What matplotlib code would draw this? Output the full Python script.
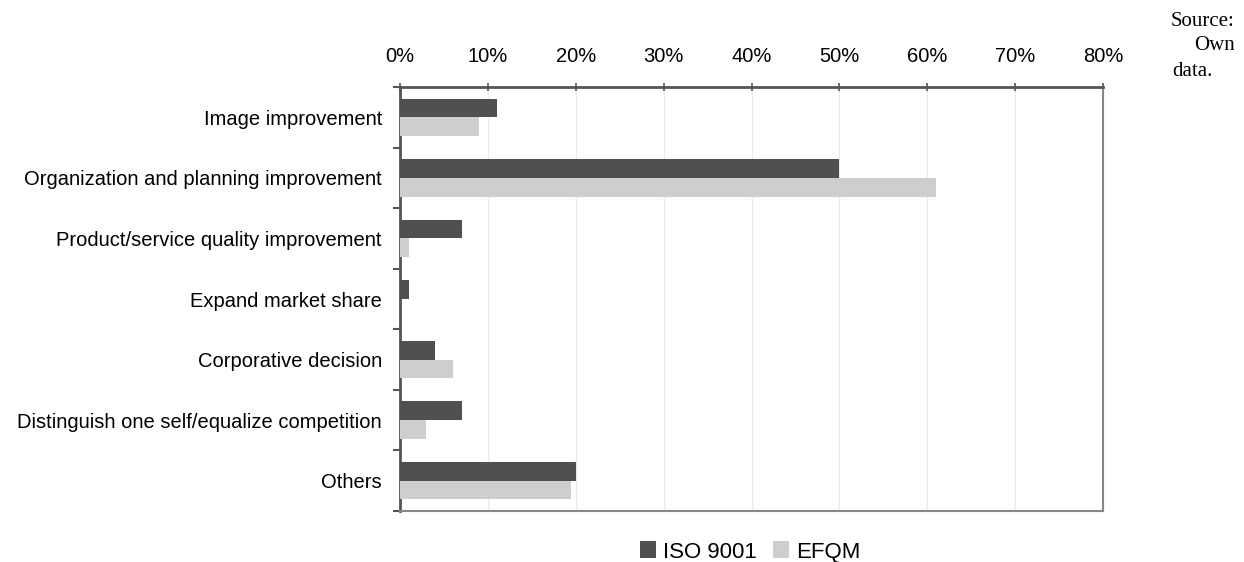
import numpy as np
from matplotlib import pyplot as plt
from matplotlib.ticker import FixedLocator

categories = ['Image improvement',
              'Organization and planning improvement',
              'Product/service quality improvement',
              'Expand market share',
              'Corporative decision',
              'Distinguish one self/equalize competition',
              'Others']
iso_9001 = [11, 50, 7, 1, 4, 7, 20]
efqm = [9, 61, 1, 0, 6, 3, 19.5]
x_ticks = [0, 10, 20, 30, 40, 50, 60, 70, 80]

plt.rcParams['font.family'] = ['Liberation Sans', 'DejaVu Sans']

fig = plt.figure(figsize=(12.44, 5.62), dpi=100)
ax = fig.add_axes([400/1244, 1 - 511/562, 703/1244, 424/562])

y = np.arange(len(categories))
h = 0.31
ax.barh(y - h/2, iso_9001, height=h, color='#505050', label='ISO 9001', zorder=3)
ax.barh(y + h/2, efqm, height=h, color='#cecece', label='EFQM', zorder=3)

ax.set_xlim(0, 80)
ax.set_ylim(len(categories) - 0.5, -0.5)
ax.set_xticks(x_ticks)
ax.set_xticklabels([str(t) + '%' for t in x_ticks], fontsize=14.5)
ax.xaxis.tick_top()
ax.tick_params(axis='x', direction='inout', length=6, width=1.2, color='#555555', pad=12)
ax.grid(axis='x', color='#ebebeb', linewidth=1, zorder=0)

ax.set_yticks(y)
ax.set_yticklabels(categories, fontsize=14.5)
ax.tick_params(axis='y', length=0, pad=13)
ax.yaxis.set_minor_locator(FixedLocator(np.arange(-0.5, len(categories), 1)))
ax.tick_params(axis='y', which='minor', length=5, width=1.5, color='#555555', direction='out')

ax.spines['left'].set_color('#555555')
ax.spines['left'].set_linewidth(2)
ax.spines['top'].set_color('#555555')
ax.spines['top'].set_linewidth(2)
ax.spines['right'].set_color('#888888')
ax.spines['right'].set_linewidth(1.5)
ax.spines['bottom'].set_color('#888888')
ax.spines['bottom'].set_linewidth(1.5)

fig.legend(loc='center', bbox_to_anchor=(750/1244, 1 - 552/562), ncol=2,
           frameon=False, fontsize=16, handlelength=0.75, handleheight=0.8,
           handletextpad=0.3, columnspacing=0.7, borderpad=0, borderaxespad=0)

fig.text(1235/1244, 1 - 21/562, 'Source:', ha='right', va='center',
         family='Liberation Serif', fontsize=15)
fig.text(1235/1244, 1 - 46/562, 'Own', ha='right', va='center',
         family='Liberation Serif', fontsize=15)
fig.text(1172/1244, 1 - 71/562, 'data.', ha='left', va='center',
         family='Liberation Serif', fontsize=15)

plt.savefig('out.png', dpi=100)
